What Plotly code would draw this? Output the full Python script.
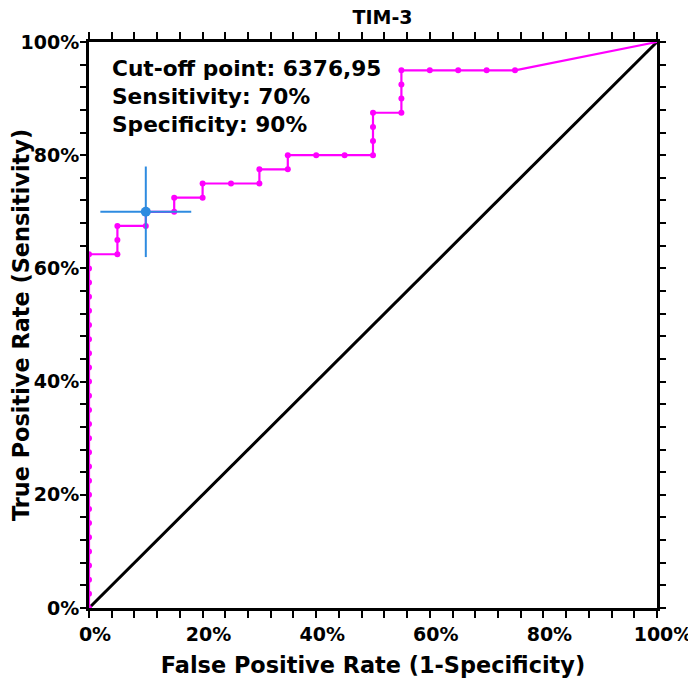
import plotly.graph_objects as go

# ROC curve data (percent)
fpr = [0]*26 + [5, 5, 5, 10, 10, 15, 15, 20, 20, 25, 30, 30, 35, 35, 40, 45, 50, 50, 50, 50,
                55, 55, 55, 55, 60, 65, 70, 75, 100]
tpr = [i * 2.5 for i in range(26)] + [62.5, 65, 67.5, 67.5, 70, 70, 72.5, 72.5, 75, 75, 75, 77.5,
                                      77.5, 80, 80, 80, 80, 82.5, 85, 87.5, 87.5, 90, 92.5, 95,
                                      95, 95, 95, 95, 100]
ref_x = [0, 100]
ref_y = [0, 100]
cut_x = [10]
cut_y = [70]
cut_err_x = [8]
cut_err_y = [8]
tick_vals = [0, 20, 40, 60, 80, 100]
tick_text = ["0%", "20%", "40%", "60%", "80%", "100%"]
title_text = "TIM-3"
note_lines = ["Cut-off point: 6376,95", "Sensitivity: 70%", "Specificity: 90%"]

FONT = "DejaVu Sans"
PINK = "#FF00FF"
BLUE = "#2E8BE0"

W, H = 688, 674  # page body has an 8px margin

fig = go.Figure()
fig.add_trace(go.Scatter(x=ref_x, y=ref_y, mode="lines",
                         line=dict(color="black", width=3), hoverinfo="skip"))
fig.add_trace(go.Scatter(x=fpr, y=tpr, mode="lines",
                         line=dict(color=PINK, width=2.2), cliponaxis=False))
fig.add_trace(go.Scatter(x=fpr[:-1], y=tpr[:-1], mode="markers",
                         marker=dict(color=PINK, size=6), cliponaxis=False))
fig.add_trace(go.Scatter(x=cut_x, y=cut_y, mode="markers",
                         marker=dict(color=BLUE, size=10),
                         error_x=dict(type="data", array=cut_err_x, color=BLUE, thickness=2, width=0),
                         error_y=dict(type="data", array=cut_err_y, color=BLUE, thickness=2, width=0),
                         cliponaxis=False))

fig.add_annotation(x=3.7, y=90.4, xref="x", yref="y", xanchor="left", yanchor="middle",
                   align="left", showarrow=False, text="<br>".join(note_lines),
                   font=dict(family=FONT, size=21.7, color="black", weight="bold"))

axis_common = dict(
    range=[0, 100], tickvals=tick_vals, ticktext=tick_text,
    showline=True, linecolor="black", linewidth=3, mirror="allticks",
    ticks="outside", tickwidth=2, tickcolor="black",
    showgrid=False, zeroline=False,
    tickfont=dict(family=FONT, size=19, color="black", weight="bold"),
)

fig.update_xaxes(**axis_common, ticklen=7, ticklabelshift=6,
                 minor=dict(dtick=4, tick0=0, ticks="outside", ticklen=7, tickwidth=2, tickcolor="black"),
                 title=dict(text="False Positive Rate (1-Specificity)", standoff=14,
                            font=dict(family=FONT, size=22.4, color="black", weight="bold")))
fig.update_yaxes(**axis_common, ticklen=6, ticklabelstandoff=-3,
                 minor=dict(dtick=4, tick0=0, ticks="outside", ticklen=6, tickwidth=2, tickcolor="black"),
                 title=dict(text="True Positive Rate (Sensitivity)", standoff=1,
                            font=dict(family=FONT, size=22.4, color="black", weight="bold")))

fig.update_layout(
    width=W, height=H,
    margin=dict(l=81, r=39, t=34, b=74, autoexpand=False),
    plot_bgcolor="white", paper_bgcolor="white",
    showlegend=False,
    title=dict(text=title_text, x=374.5 / W, xanchor="center", y=1.0, yanchor="top",
               pad=dict(t=3),
               font=dict(family=FONT, size=19, color="black", weight="bold")),
)

fig.write_html("out.html")
